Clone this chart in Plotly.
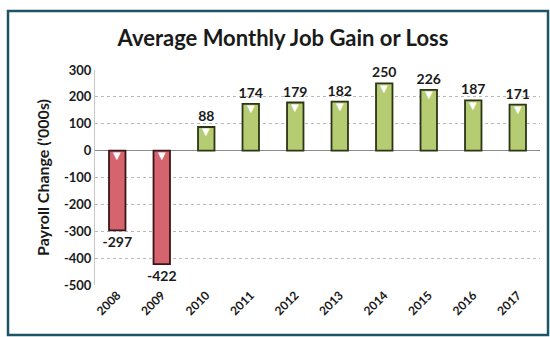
import plotly.graph_objects as go

years = ["2008", "2009", "2010", "2011", "2012", "2013", "2014", "2015", "2016", "2017"]
avg_change = [-297, -422, 88, 174, 179, 182, 250, 226, 187, 171]
y_ticks = [300, 200, 100, 0, -100, -200, -300, -400, -500]

RED_FILL = "#d5646f"
RED_LINE = "#3b1518"
GREEN_FILL = "#b6cc72"
GREEN_LINE = "#2c3516"
FONT = "Lato"

fills = [RED_FILL if v < 0 else GREEN_FILL for v in avg_change]
lines = [RED_LINE if v < 0 else GREEN_LINE for v in avg_change]

fig = go.Figure()
fig.add_trace(go.Bar(
    x=years,
    y=avg_change,
    width=0.37,
    marker=dict(color=fills, line=dict(color=lines, width=1.8)),
    text=[str(v) for v in avg_change],
    textposition="outside",
    constraintext="none",
    cliponaxis=False,
    textfont=dict(family=FONT, size=14, color="#1a1a1a", weight="bold"),
    hoverinfo="skip",
))

# small bevel highlight just under the top edge of each bar (x given as category index)
annotations = []
for i, v in enumerate(avg_change):
    annotations.append(dict(
        x=i, y=max(v, 0), xref="x", yref="y",
        text="▼", showarrow=False, yanchor="middle", yshift=-5,
        font=dict(family="DejaVu Sans", size=10, color="white"),
    ))

fig.update_layout(
    width=550, height=337,
    margin=dict(l=95, r=10, t=70, b=52),
    paper_bgcolor="white",
    plot_bgcolor="white",
    showlegend=False,
    title=dict(
        text="Average Monthly Job Gain or Loss",
        x=283 / 550, xanchor="center", xref="container",
        y=1 - 38 / 337, yanchor="middle", yref="container",
        font=dict(family=FONT, size=22, color="#1a1a1a", weight="bold"),
    ),
    annotations=annotations,
    shapes=[dict(
        type="rect", xref="paper", yref="paper",
        x0=-0.1955, x1=1.018, y0=-0.233, y1=1.274,
        line=dict(color="#1d5566", width=2.5), layer="below",
    )],
)

fig.update_xaxes(
    type="category",
    categoryorder="array", categoryarray=years,
    tickangle=-45,
    tickfont=dict(family=FONT, size=12, color="#1a1a1a", weight="bold"),
    showgrid=False,
    showline=False,
    ticks="",
)
fig.update_yaxes(
    range=[-500, 300],
    tickvals=y_ticks,
    ticktext=[str(t) for t in y_ticks],
    tickfont=dict(family=FONT, size=13, color="#1a1a1a", weight="bold"),
    showgrid=True, gridcolor="#b9b9b9", griddash="dot", gridwidth=1,
    zeroline=True, zerolinecolor="#8a8a8a", zerolinewidth=1,
    showline=True, linecolor="#c8c8c8", linewidth=1,
    ticks="",
    title=dict(text="Payroll Change ('000s)", standoff=10,
               font=dict(family=FONT, size=16, color="#1a1a1a", weight="bold")),
)

fig.write_html("out.html")
